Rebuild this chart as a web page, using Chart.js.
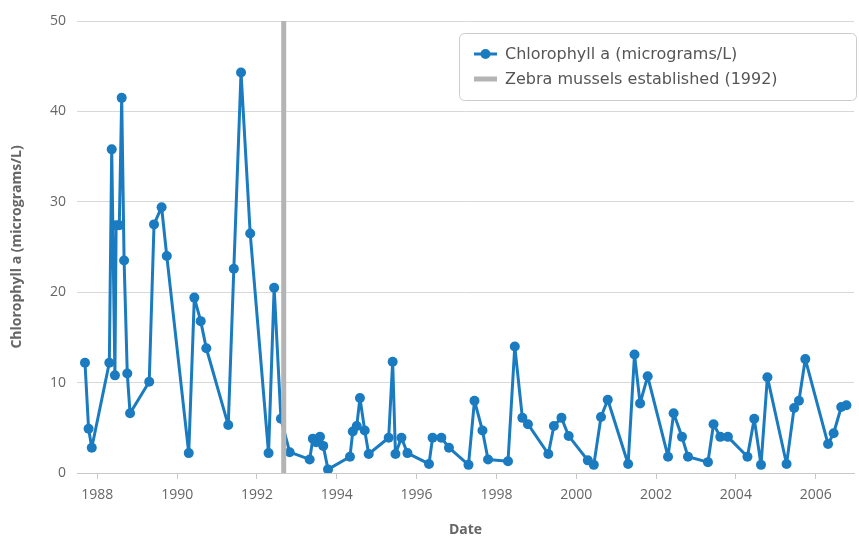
<!DOCTYPE html>
<html>
<head>
<meta charset="utf-8">
<script src="https://cdn.jsdelivr.net/npm/chart.js@4/dist/chart.umd.min.js"></script>
<style>
  html, body { margin: 0; padding: 0; background: #fff; }
  #wrap { width: 859px; height: 536px; }
</style>
</head>
<body>
<div id="wrap"><canvas id="chlaChart" width="859" height="536"></canvas></div>
<script>
// Sample dates as decimal years
const sampleDates = [
    1987.69, 1987.78, 1987.86,
    1988.30, 1988.36, 1988.44, 1988.47, 1988.55, 1988.61, 1988.67, 1988.75, 1988.82,
    1989.30, 1989.42, 1989.61, 1989.74,
    1990.29, 1990.43, 1990.59, 1990.73,
    1991.28, 1991.42, 1991.60, 1991.83,
    1992.29, 1992.43, 1992.60, 1992.82,
    1993.32, 1993.40, 1993.48, 1993.58, 1993.66, 1993.78,
    1994.33, 1994.40, 1994.50, 1994.58, 1994.70, 1994.80,
    1995.30, 1995.40, 1995.47, 1995.62, 1995.77,
    1996.31, 1996.40, 1996.62, 1996.81,
    1997.30, 1997.45, 1997.65, 1997.79,
    1998.29, 1998.46, 1998.65, 1998.79,
    1999.30, 1999.44, 1999.63, 1999.81,
    2000.29, 2000.44, 2000.62, 2000.79,
    2001.30, 2001.46, 2001.60, 2001.79,
    2002.30, 2002.44, 2002.65, 2002.80,
    2003.30, 2003.44, 2003.61, 2003.80,
    2004.29, 2004.46, 2004.63, 2004.79,
    2005.27, 2005.46, 2005.58, 2005.74,
    2006.31, 2006.45, 2006.64, 2006.77
];

// Chlorophyll a (micrograms/L)
const chlorophyll = [
    12.2, 4.9, 2.8,
    12.2, 35.8, 10.8, 27.4, 27.4, 41.5, 23.5, 11.0, 6.6,
    10.1, 27.5, 29.4, 24.0,
    2.2, 19.4, 16.8, 13.8,
    5.3, 22.6, 44.3, 26.5,
    2.2, 20.5, 6.0, 2.3,
    1.5, 3.8, 3.4, 4.0, 3.0, 0.4,
    1.8, 4.6, 5.2, 8.3, 4.7, 2.1,
    3.9, 12.3, 2.1, 3.9, 2.2,
    1.0, 3.9, 3.9, 2.8,
    0.9, 8.0, 4.7, 1.5,
    1.3, 14.0, 6.1, 5.4,
    2.1, 5.2, 6.1, 4.1,
    1.4, 0.9, 6.2, 8.1,
    1.0, 13.1, 7.7, 10.7,
    1.8, 6.6, 4.0, 1.8,
    1.2, 5.4, 4.0, 4.0,
    1.8, 6.0, 0.9, 10.6,
    1.0, 7.2, 8.0, 12.6,
    3.2, 4.4, 7.3, 7.5
];

// Zebra mussels marker (decimal year) and axis ticks
const musselYear = 1992.67;
const xTickYears = [1988, 1990, 1992, 1994, 1996, 1998, 2000, 2002, 2004, 2006];
const yTickValues = [0, 10, 20, 30, 40, 50];

const seriesColor = '#1a7bc0';
const markerColor = '#b4b4b4';
const textColor = '#666666';

/**
 * Draw a boxed legend in the top right corner of the plot
 */
const boxLegend = {
    id: 'boxLegend',
    afterDraw(chart) {
        const ctx = chart.ctx;
        const x = 459, y = 33, w = 397, h = 67;
        ctx.save();
        ctx.fillStyle = '#ffffff';
        ctx.strokeStyle = '#cccccc';
        ctx.lineWidth = 1;
        ctx.beginPath();
        ctx.roundRect(x + 0.5, y + 0.5, w, h, 5);
        ctx.fill();
        ctx.stroke();

        ctx.font = '16px "DejaVu Sans"';
        ctx.textBaseline = 'middle';
        chart.data.datasets.forEach((ds, i) => {
            const cy = y + 21 + i * 25;
            ctx.strokeStyle = ds.borderColor;
            ctx.lineWidth = ds.pointRadius > 0 ? 3 : 5;
            ctx.beginPath();
            ctx.moveTo(x + 15, cy);
            ctx.lineTo(x + 38, cy);
            ctx.stroke();
            if (ds.pointRadius > 0) {
                ctx.fillStyle = ds.borderColor;
                ctx.beginPath();
                ctx.arc(x + 26.5, cy, 5, 0, Math.PI * 2);
                ctx.fill();
            }
            ctx.fillStyle = '#555555';
            ctx.fillText(ds.label, x + 46, cy + 1);
        });
        ctx.restore();
    }
};

const ctx = document.getElementById('chlaChart');
new Chart(ctx, {
    type: 'line',
    data: {
        datasets: [
            {
                label: 'Chlorophyll a (micrograms/L)',
                data: sampleDates.map((d, i) => ({ x: d, y: chlorophyll[i] })),
                borderColor: seriesColor,
                backgroundColor: seriesColor,
                borderWidth: 3,
                borderJoinStyle: 'round',
                pointRadius: 5,
                pointBorderWidth: 0,
                tension: 0,
                order: 2
            },
            {
                label: 'Zebra mussels established (1992)',
                data: [{ x: musselYear, y: 0 }, { x: musselYear, y: 50 }],
                borderColor: markerColor,
                backgroundColor: markerColor,
                borderWidth: 5,
                pointRadius: 0,
                order: 1
            }
        ]
    },
    options: {
        responsive: false,
        animation: false,
        layout: {
            padding: { top: 21, right: 3, left: 0, bottom: 0 }
        },
        plugins: {
            legend: { display: false },
            tooltip: { enabled: false }
        },
        scales: {
            x: {
                type: 'linear',
                min: 1987.49,
                max: 2006.96,
                afterBuildTicks: scale => {
                    scale.ticks = xTickYears.map(v => ({ value: v }));
                },
                afterFit: scale => { scale.height = 63; },
                grid: {
                    drawOnChartArea: false,
                    drawTicks: true,
                    tickLength: 6,
                    color: '#c8c8c8'
                },
                border: { display: true, color: '#c8c8c8', width: 1 },
                ticks: {
                    color: textColor,
                    font: { family: 'Open Sans', size: 14 },
                    padding: 8,
                    maxRotation: 0,
                    callback: v => String(v)
                },
                title: {
                    display: true,
                    text: 'Date',
                    color: textColor,
                    font: { family: 'Open Sans', size: 14, weight: 'bold' },
                    padding: { top: 10, bottom: -2 }
                }
            },
            y: {
                min: 0,
                max: 50,
                afterBuildTicks: scale => {
                    scale.ticks = yTickValues.map(v => ({ value: v }));
                },
                afterFit: scale => { scale.width = 77; },
                grid: {
                    color: '#d8d8d8',
                    drawTicks: false
                },
                border: { display: false },
                ticks: {
                    color: textColor,
                    font: { family: 'Open Sans', size: 14 },
                    padding: 11
                },
                title: {
                    display: true,
                    text: 'Chlorophyll a (micrograms/L)',
                    color: textColor,
                    font: { family: 'Open Sans', size: 14, weight: 'bold' },
                    padding: { top: 9, bottom: 0 }
                }
            }
        }
    },
    plugins: [boxLegend]
});
</script>
</body>
</html>
